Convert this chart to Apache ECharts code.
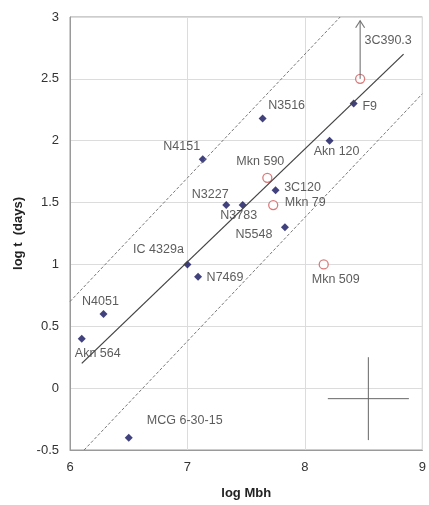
<!DOCTYPE html>
<html>
<head>
<meta charset="utf-8">
<script src="https://cdn.jsdelivr.net/npm/echarts@6/dist/echarts.min.js"></script>
<style>html,body{margin:0;padding:0;background:#fff;}#c{width:429px;height:505px;}</style>
</head>
<body>
<div id="c"></div>
<script>
// Filled diamonds (reverberation-mapped AGN)
const filledNames = ['N4151','N3516','F9','Akn 120','3C120','N3227','N3783','N5548','IC 4329a','N7469','N4051','Akn 564','MCG 6-30-15'];
const filledX = [7.13, 7.64, 8.415, 8.21, 7.75, 7.33, 7.47, 7.83, 7.0, 7.09, 6.285, 6.10, 6.50];
const filledY = [1.85, 2.18, 2.30, 2.00, 1.60, 1.48, 1.48, 1.30, 1.00, 0.90, 0.60, 0.40, -0.40];
// Open circles
const openNames = ['3C390.3','Mkn 590','Mkn 79','Mkn 509'];
const openX = [8.47, 7.68, 7.73, 8.16];
const openY = [2.50, 1.70, 1.48, 1.00];
// Lower limit arrow for 3C390.3
const arrowX = 8.47, arrowFrom = 2.50, arrowTo = 2.97;
// Fit line and +/- envelopes
const fitLineX = [6.10, 8.84], fitLineY = [0.20, 2.70];
const upperX = [6.0, 8.30], upperY = [0.70, 3.00];
const lowerX = [6.12, 9.0], lowerY = [-0.50, 2.38];
// Typical error bar
const errCenter = [8.54, -0.085], errHalfX = 0.345, errHalfY = 0.335;
// Axis ticks
const xTicks = {min: 6, max: 9, step: 1};
const yTicks = {min: -0.5, max: 3, step: 0.5};

// Label offsets (style only)
const filledOffsets = [[-21,-13],[24,-13],[16,3],[7,11],[27,-3],[-16,-10],[-4,11],[-31,7],[-29,-15],[27,1],[-3,-12],[16,15],[56,-17]];
const openOffsets = [[28,-38],[-7,-16],[32,-2],[12,15]];

const font = 'Liberation Sans, Arial, sans-serif';
const lblStyle = {show:true, position:'inside', color:'#333', fontSize:12.5, fontFamily:font};

const filledData = filledNames.map((n,i)=>({name:n, value:[filledX[i], filledY[i]],
  label:Object.assign({}, lblStyle, {offset: filledOffsets[i], formatter: n})}));
const openData = openNames.map((n,i)=>({name:n, value:[openX[i], openY[i]],
  label:Object.assign({}, lblStyle, {offset: openOffsets[i], formatter: n})}));

const chart = echarts.init(document.getElementById('c'), null, {renderer:'canvas'});
chart.setOption({
  animation:false,
  backgroundColor:'#fff',
  grid:{left:70, right:4, top:17, bottom:49, show:true, borderColor:'#9a9a9a', borderWidth:1},
  xAxis:{type:'value', min:xTicks.min, max:xTicks.max, interval:xTicks.step,
    name:'log Mbh', nameLocation:'middle', nameGap:37,
    nameTextStyle:{fontSize:13, fontWeight:'bold', color:'#222', fontFamily:font},
    axisLine:{show:true, onZero:false, lineStyle:{color:'#9a9a9a'}}, axisTick:{show:false},
    axisLabel:{fontSize:13, color:'#333', margin:11, fontFamily:font},
    splitLine:{show:true, lineStyle:{color:'#dcdcdc'}}},
  yAxis:{type:'value', min:yTicks.min, max:yTicks.max, interval:yTicks.step,
    name:'log t  (days)', nameLocation:'middle', nameGap:45, nameRotate:90,
    nameTextStyle:{fontSize:13, fontWeight:'bold', color:'#222', fontFamily:font},
    axisLine:{show:true, onZero:false, lineStyle:{color:'#9a9a9a'}}, axisTick:{show:false},
    axisLabel:{fontSize:13, color:'#333', margin:11, fontFamily:font,
      formatter:v=>String(Math.round(v*10)/10)},
    splitLine:{show:true, lineStyle:{color:'#dcdcdc'}}},
  series:[
    {type:'line', data:upperX.map((x,i)=>[x,upperY[i]]), symbol:'none', silent:true,
      lineStyle:{color:'#777', width:1, type:[3,2]}},
    {type:'line', data:lowerX.map((x,i)=>[x,lowerY[i]]), symbol:'none', silent:true,
      lineStyle:{color:'#777', width:1, type:[3,2]}},
    {type:'line', data:fitLineX.map((x,i)=>[x,fitLineY[i]]), symbol:'none', silent:true,
      lineStyle:{color:'#444', width:1.3}},
    {type:'line', data:[[arrowX,arrowFrom],[arrowX,arrowTo]], symbol:'none', silent:true,
      lineStyle:{color:'#666', width:1}},
    {type:'scatter', data:[[arrowX,arrowTo]], symbol:'path://M0,8 L5,0 L10,8', symbolSize:[9,7],
      symbolOffset:[0,3.5], silent:true,
      itemStyle:{color:'none', borderColor:'#555', borderWidth:1}},
    {type:'line', data:[[errCenter[0]-errHalfX,errCenter[1]],[errCenter[0]+errHalfX,errCenter[1]]],
      symbol:'none', silent:true, lineStyle:{color:'#666', width:1}},
    {type:'line', data:[[errCenter[0],errCenter[1]-errHalfY],[errCenter[0],errCenter[1]+errHalfY]],
      symbol:'none', silent:true, lineStyle:{color:'#666', width:1}},
    {type:'scatter', data:filledData, symbol:'diamond', symbolSize:8,
      itemStyle:{color:'#12125e'}},
    {type:'scatter', data:openData, symbol:'circle', symbolSize:9,
      itemStyle:{color:'#fff', borderColor:'#d05a5a', borderWidth:1.3}}
  ]
});
</script>
</body>
</html>
